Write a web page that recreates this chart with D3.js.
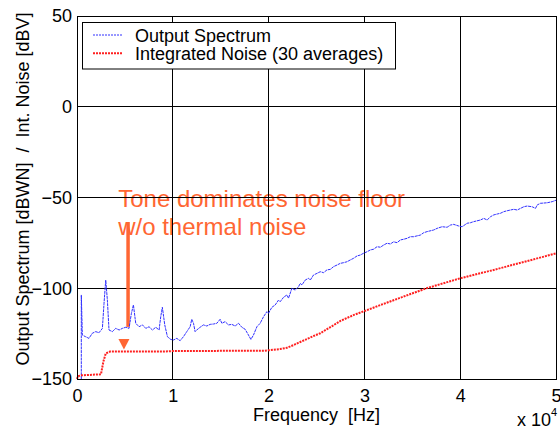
<!DOCTYPE html>
<html><head><meta charset="utf-8">
<script src="https://cdn.jsdelivr.net/npm/d3@7"></script>
<style>
html,body{margin:0;padding:0;background:#fff;}
svg{display:block;font-family:"Liberation Sans",Arial,Helvetica,sans-serif;}
</style></head>
<body>
<svg id="chart" width="560" height="429"></svg>
<script>
// Frequency in units of 1e4 Hz
const specFreq = [0.045,0.045,0.056,0.09,0.125,0.16,0.195,0.23,0.265,0.282,0.30,0.317,0.334,0.369,0.404,0.44,0.474,0.509,0.543,0.568,0.589,0.613,0.648,0.683,0.718,0.752,0.787,0.822,0.857,0.874,0.891,0.916,0.944,0.979,1.007,1.042,1.076,1.111,1.146,1.163,1.181,1.198,1.216,1.233,1.25,1.285,1.32,1.355,1.39,1.425,1.46,1.494,1.512,1.546,1.581,1.616,1.651,1.686,1.721,1.755,1.79,1.815,1.842,1.878,1.912,1.947,1.982,1.999,2.034,2.069,2.104,2.121,2.156,2.191,2.208,2.243,2.278,2.313,2.33,2.348,2.382,2.417,2.435,2.469,2.505,2.539,2.574,2.609,2.644,2.678,2.714,2.748,2.783,2.818,2.853,2.887,2.923,2.957,2.992,3.027,3.062,3.096,3.132,3.166,3.201,3.236,3.271,3.305,3.341,3.375,3.41,3.445,3.48,3.514,3.584,3.619,3.654,3.723,3.759,3.811,3.863,3.898,3.932,3.984,4.02,4.072,4.107,4.141,4.211,4.246,4.281,4.316,4.35,4.386,4.42,4.455,4.49,4.559,4.595,4.629,4.664,4.699,4.751,4.786,4.804,4.838,4.908,4.96,5.0];
const specVal = [-150,-103.7,-125.8,-126.7,-127.6,-124.8,-123.9,-124.5,-122.1,-108.3,-95.5,-106.5,-123,-123.9,-122.1,-123,-122.1,-121.5,-122.1,-113.8,-109.2,-119.3,-121.2,-120.2,-122.1,-121.2,-123,-121.5,-123,-115.7,-110.5,-120.2,-126.7,-128.2,-128.5,-127.6,-128.9,-126.7,-123.9,-122.6,-121.2,-117.1,-119.3,-123.9,-123,-121.5,-120.2,-120.8,-119.9,-119.7,-119.3,-117.1,-119.3,-118.4,-120.2,-119.9,-120.8,-119.3,-121.5,-122.6,-125.8,-128.2,-125.8,-121.2,-119.3,-115.7,-112.9,-113.8,-110.5,-109.2,-106.5,-107.4,-105,-103.7,-105.5,-100,-101,-99.1,-97.3,-98.2,-95.5,-94.5,-95.5,-92.7,-91.8,-90.9,-91.4,-89.9,-89.6,-88.1,-87.2,-86.3,-85.9,-85.4,-84.4,-83.5,-82.2,-81.7,-80.7,-79.9,-78.9,-78.5,-77.1,-77.4,-76.2,-75.2,-75.6,-74.4,-74.9,-73.4,-73,-72.5,-71.6,-71.6,-70.7,-69.4,-68.8,-67.9,-67,-66.1,-66.4,-65.2,-64.8,-65.7,-66.1,-64.2,-63.9,-63.3,-62.4,-61.5,-62.4,-60.6,-59.6,-59.1,-58.7,-57.8,-57.3,-56.5,-56.9,-56,-55.1,-54.7,-55.1,-56,-54.1,-53.2,-52.9,-52.3,-51.5];

const noiseFreq = [0,0.01,0.04,0.25,0.275,0.30,0.345,0.9,1.0,1.5,1.96,2.12,2.19,2.26,2.33,2.4,2.47,2.54,2.61,2.68,2.75,2.89,3.03,3.17,3.31,3.48,3.65,4.0,4.35,4.7,5.0];
const noiseVal = [-150,-148.5,-148,-147.4,-140.5,-135.9,-134.9,-134.9,-134.6,-134.5,-134.4,-133.5,-132.8,-131.3,-129.6,-128,-126.3,-124.8,-122.5,-120.3,-118,-114.7,-112,-109.2,-106.5,-103.2,-100,-94.5,-89.9,-85,-80.8];

const xTicks = [0,1,2,3,4,5];
const yTicks = [50,0,-50,-100,-150];
const seriesNames = ["Output Spectrum","Integrated Noise (30 averages)"];
const annotLines = ["Tone dominates noise floor","w/o thermal noise"];

const W = 560, H = 429;
const m = {left:77, right:4, top:16, bottom:50};
const svg = d3.select("#chart");
const x = d3.scaleLinear().domain([0,5]).range([m.left, W-m.right]);
const y = d3.scaleLinear().domain([-150,50]).range([H-m.bottom, m.top]);

const orange = "#ff6633";

// annotation text (under grid)
const ann = svg.append("g").attr("fill", orange).attr("font-size", 24);
ann.append("text").attr("x", x(0.43)).attr("y", y(-55.2)).text(annotLines[0]);
ann.append("text").attr("x", x(0.43)).attr("y", y(-70.7)).text(annotLines[1]);

// grid
const grid = svg.append("g").attr("stroke","#000").attr("stroke-width",1).attr("shape-rendering","crispEdges");
grid.selectAll(".gx").data(xTicks).join("line")
  .attr("x1",d=>x(d)).attr("x2",d=>x(d)).attr("y1",y(-150)).attr("y2",y(50));
grid.selectAll(".gy").data(yTicks).join("line")
  .attr("y1",d=>y(d)).attr("y2",d=>y(d)).attr("x1",x(0)).attr("x2",x(5));

// arrow
svg.append("line").attr("x1",x(0.533)).attr("x2",x(0.533))
  .attr("y1",y(-63.5)).attr("y2",y(-121.3))
  .attr("stroke",orange).attr("stroke-width",3.5);
svg.append("path")
  .attr("d", `M${x(0.49)-5.5},${y(-128)} L${x(0.49)+5.5},${y(-128)} L${x(0.49)},${y(-133.8)} Z`)
  .attr("fill", orange);

// lines
const specData = specFreq.map((f,i)=>[f,specVal[i]]);
const noiseData = noiseFreq.map((f,i)=>[f,noiseVal[i]]);
const line = d3.line().x(d=>x(d[0])).y(d=>y(d[1]));
svg.append("path").datum(specData).attr("d",line)
  .attr("fill","none").attr("stroke","#3030ff").attr("stroke-width",1)
  .attr("stroke-dasharray","3,0.7").attr("stroke-linejoin","round");
svg.append("path").datum(noiseData).attr("d",line)
  .attr("fill","none").attr("stroke","#ff2020").attr("stroke-width",2)
  .attr("stroke-dasharray","2,1");

// axes box
svg.append("rect").attr("x",x(0)).attr("y",y(50)).attr("width",x(5)-x(0)).attr("height",y(-150)-y(50))
  .attr("fill","none").attr("stroke","#000").attr("stroke-width",1).attr("shape-rendering","crispEdges");

// axes
const xAxis = d3.axisBottom(x).tickValues(xTicks).tickSize(0).tickPadding(10).tickFormat(d3.format("d"));
const gx = svg.append("g").attr("transform",`translate(0,${y(-150)})`).call(xAxis);
gx.select(".domain").remove();
gx.selectAll("text").attr("font-size",18).attr("fill","#000").attr("font-family","Liberation Sans, Arial, sans-serif");

const yAxis = d3.axisLeft(y).tickValues(yTicks).tickSize(0).tickPadding(5).tickFormat(d3.format("d"));
const gy = svg.append("g").attr("transform",`translate(${x(0)},0)`).call(yAxis);
gy.select(".domain").remove();
gy.selectAll("text").attr("font-size",18).attr("fill","#000").attr("font-family","Liberation Sans, Arial, sans-serif");

// axis labels
svg.append("text").attr("x",(x(0)+x(5))/2).attr("y",421).attr("text-anchor","middle")
  .attr("font-size",18).style("white-space","pre").text("Frequency  [Hz]");
const e = svg.append("text").attr("x",517).attr("y",426).attr("font-size",18);
e.append("tspan").text("x 10");
e.append("tspan").attr("font-size",11).attr("dy",-10).text("4");

svg.append("text").attr("transform",`translate(29,189) rotate(-90)`)
  .attr("text-anchor","middle").attr("font-size",18).style("white-space","pre")
  .text("Output Spectrum [dBWN]  /  Int. Noise [dBV]");

// legend
const lg = svg.append("g");
lg.append("rect").attr("x",82.5).attr("y",22.5).attr("width",313).attr("height",46.5)
  .attr("fill","#fff").attr("stroke","#000").attr("stroke-width",1);
const legStyles = [
  {stroke:"#3030ff", w:1, dash:"2,1"},
  {stroke:"#ff2020", w:2, dash:"2,1"}
];
seriesNames.forEach((n,i)=>{
  const yy = 35 + i*18.3;
  lg.append("line").attr("x1",93).attr("x2",123).attr("y1",yy).attr("y2",yy)
    .attr("stroke",legStyles[i].stroke).attr("stroke-width",legStyles[i].w).attr("stroke-dasharray",legStyles[i].dash);
  lg.append("text").attr("x",135).attr("y",yy+6.5).attr("font-size",18).text(n);
});
</script>
</body></html>
